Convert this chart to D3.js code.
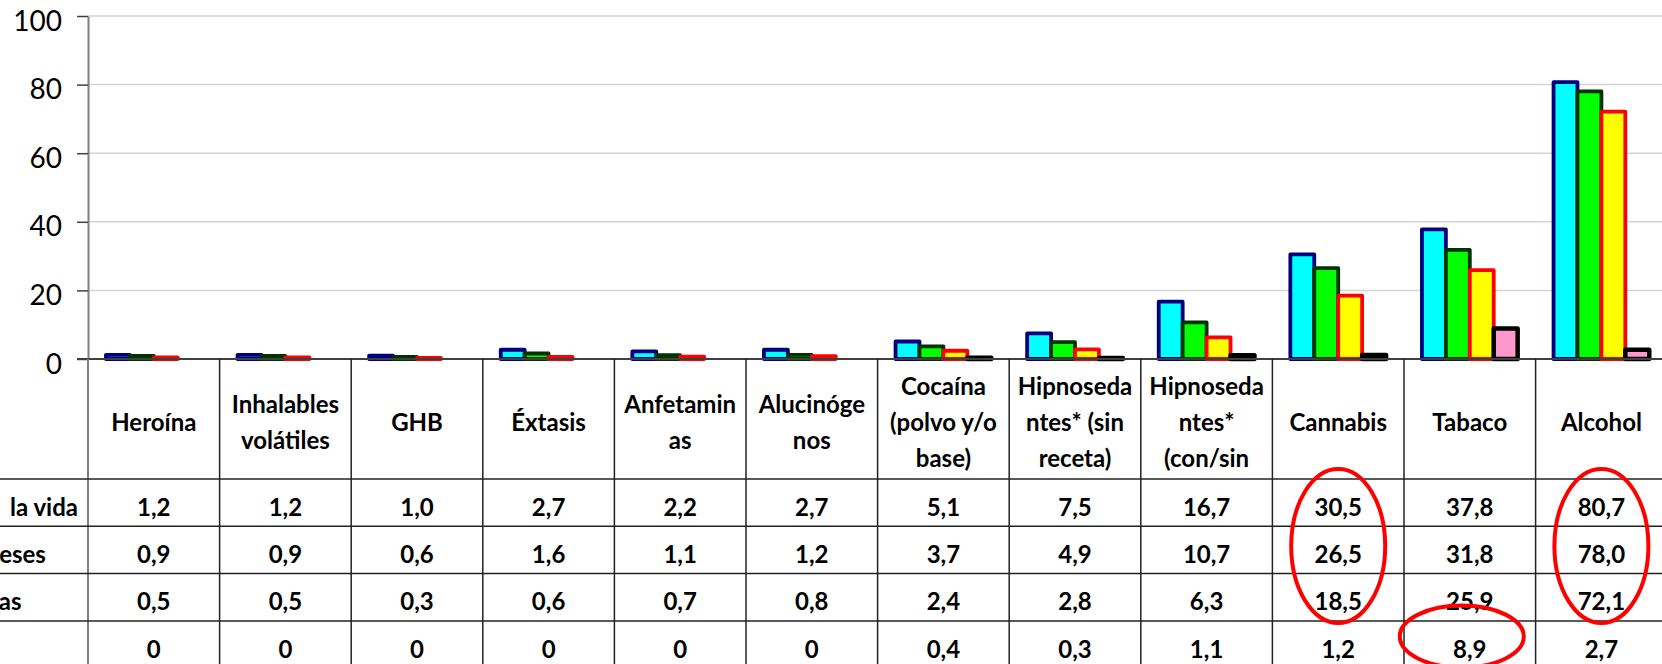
<!DOCTYPE html>
<html>
<head>
<meta charset="utf-8">
<script src="https://cdn.jsdelivr.net/npm/d3@7"></script>
<style>
  body { margin: 0; background: #fff; }
  svg { display: block; font-family: Lato, "Open Sans", sans-serif; }
</style>
</head>
<body>
<svg id="chart"></svg>
<script>
// data
const categories = ["Heroína", "Inhalables volátiles", "GHB", "Éxtasis", "Anfetaminas", "Alucinógenos",
  "Cocaína (polvo y/o base)", "Hipnosedantes* (sin receta)", "Hipnosedantes* (con/sin receta)",
  "Cannabis", "Tabaco", "Alcohol"];
// the header cells wrap the names like this; the last line of the 9th one is hidden
const headerLines = [["Heroína"], ["Inhalables", "volátiles"], ["GHB"], ["Éxtasis"], ["Anfetamin", "as"],
  ["Alucinóge", "nos"], ["Cocaína", "(polvo y/o", "base)"], ["Hipnoseda", "ntes* (sin", "receta)"],
  ["Hipnoseda", "ntes*", "(con/sin"], ["Cannabis"], ["Tabaco"], ["Alcohol"]];
const seriesNames = ["Alguna vez en la vida", "Últimos 12 meses", "Últimos 30 días", "Diariamente"];
const algunaVez = [1.2, 1.2, 1.0, 2.7, 2.2, 2.7, 5.1, 7.5, 16.7, 30.5, 37.8, 80.7];
const ultimos12 = [0.9, 0.9, 0.6, 1.6, 1.1, 1.2, 3.7, 4.9, 10.7, 26.5, 31.8, 78.0];
const ultimos30 = [0.5, 0.5, 0.3, 0.6, 0.7, 0.8, 2.4, 2.8, 6.3, 18.5, 25.9, 72.1];
const diario = [0, 0, 0, 0, 0, 0, 0.4, 0.3, 1.1, 1.2, 8.9, 2.7];
const yTicks = [0, 20, 40, 60, 80, 100];
const highlights = [
  { cat: "Cannabis", from: 0, to: 2 },
  { cat: "Tabaco", from: 3, to: 3 },
  { cat: "Alcohol", from: 0, to: 2 }
];

const seriesValues = [algunaVez, ultimos12, ultimos30, diario];
const fills = ["#00ffff", "#00ff00", "#ffff00", "#ff99cc"];
const strokes = ["#000080", "#003300", "#ff0000", "#000000"];

const width = 1662, height = 664;
const left = 88, colW = 131.6;
const plotTop = 16, plotBottom = 359;
const headerBottom = 479, rowH = 47.3;

const svg = d3.select("#chart").attr("width", width).attr("height", height);

const x = d3.scaleBand()
  .domain(categories)
  .range([left, left + categories.length * colW])
  .padding(0);

const xs = d3.scaleBand()
  .domain(d3.range(seriesNames.length))
  .range([0, x.bandwidth()])
  .paddingInner(0)
  .paddingOuter(0.75);

const y = d3.scaleLinear()
  .domain([0, 100])
  .range([plotBottom, plotTop]);

const rows = d3.scaleBand()
  .domain(d3.range(seriesNames.length))
  .range([headerBottom, headerBottom + seriesNames.length * rowH]);

// gridlines
svg.append("g")
  .selectAll("line")
  .data(yTicks.filter(d => d > 0))
  .join("line")
  .attr("x1", left)
  .attr("x2", width)
  .attr("y1", d => y(d))
  .attr("y2", d => y(d))
  .attr("stroke", "#d4d4d4")
  .attr("stroke-width", 1.5);

// bars
seriesValues.forEach((vals, s) => {
  svg.append("g")
    .selectAll("rect")
    .data(categories.map((c, i) => ({ c, v: vals[i] })).filter(d => d.v > 0))
    .join("rect")
    .attr("x", d => x(d.c) + xs(s))
    .attr("y", d => y(d.v))
    .attr("width", xs.bandwidth())
    .attr("height", d => y(0) - y(d.v))
    .attr("fill", fills[s])
    .attr("stroke", strokes[s])
    .attr("stroke-width", s === 3 ? 4.5 : 3.8)
    .attr("stroke-linejoin", "round");
});

// y axis
const yAxis = svg.append("g")
  .attr("transform", `translate(${left},0)`)
  .call(d3.axisLeft(y).tickValues(yTicks).tickSize(11).tickPadding(15).tickSizeOuter(0));
yAxis.select(".domain").attr("stroke", "#7f7f7f").attr("stroke-width", 2);
yAxis.selectAll(".tick line").attr("stroke", "#404040").attr("stroke-width", 1.5);
yAxis.selectAll(".tick text")
  .attr("font-family", "Lato, sans-serif")
  .attr("font-size", 28)
  .attr("fill", "#000")
  .attr("dy", "0.5em");

// x axis line
svg.append("line")
  .attr("x1", left - 11)
  .attr("x2", width)
  .attr("y1", y(0))
  .attr("y2", y(0))
  .attr("stroke", "#404040")
  .attr("stroke-width", 2);

// data table grid
const tableBottom = headerBottom + seriesNames.length * rowH;
svg.append("g")
  .selectAll("line")
  .data(d3.range(categories.length + 1))
  .join("line")
  .attr("x1", i => left + i * colW)
  .attr("x2", i => left + i * colW)
  .attr("y1", y(0))
  .attr("y2", tableBottom)
  .attr("stroke", i => i === 0 ? "#7f7f7f" : "#222")
  .attr("stroke-width", i => i === 0 ? 2 : 1.5);

svg.append("g")
  .selectAll("line")
  .data(d3.range(seriesNames.length + 1))
  .join("line")
  .attr("x1", 0)
  .attr("x2", width)
  .attr("y1", i => headerBottom + i * rowH)
  .attr("y2", i => headerBottom + i * rowH)
  .attr("stroke", "#222")
  .attr("stroke-width", 1.5);

// header labels
const headerMid = (plotBottom + headerBottom) / 2 + 3;
const lineH = 36;
const hdr = svg.append("g")
  .attr("font-size", 24)
  .attr("font-weight", "bold")
  .attr("text-anchor", "middle");

categories.forEach((c, i) => {
  const lines = headerLines[i];
  const n = lines.length;
  hdr.append("text")
    .attr("x", x(c) + x.bandwidth() / 2)
    .selectAll("tspan")
    .data(lines)
    .join("tspan")
    .attr("x", x(c) + x.bandwidth() / 2)
    .attr("y", (d, j) => headerMid + (j - (n - 1) / 2) * lineH + 8.5)
    .text(d => d);
});

// table values
const fmt = v => v === 0 ? "0" : v.toFixed(1).replace(".", ",");
seriesValues.forEach((vals, s) => {
  svg.append("g")
    .attr("font-size", 24)
    .attr("font-weight", "bold")
    .attr("text-anchor", "middle")
    .selectAll("text")
    .data(categories.map((c, i) => ({ c, v: vals[i] })))
    .join("text")
    .attr("x", d => x(d.c) + x.bandwidth() / 2)
    .attr("y", rows(s) + rowH / 2 + 13)
    .text(d => fmt(d.v));
});

// row labels, cut by the left edge of the picture
svg.append("clipPath").attr("id", "rowclip")
  .append("rect")
  .attr("x", 6).attr("y", headerBottom)
  .attr("width", left - 6).attr("height", rowH);

const rowLabels = svg.append("g")
  .attr("font-size", 24)
  .attr("font-weight", "bold")
  .selectAll("text")
  .data(seriesNames)
  .join("text")
  .attr("y", (d, i) => rows(i) + rowH / 2 + 13)
  .attr("clip-path", (d, i) => i === 0 ? "url(#rowclip)" : null)
  .text(d => d);
const firstW = rowLabels.node().getComputedTextLength();
rowLabels.attr("x", 78 - firstW);

// red ellipses
svg.append("g")
  .selectAll("ellipse")
  .data(highlights)
  .join("ellipse")
  .attr("cx", d => x(d.cat) + x.bandwidth() / 2 + (d.from === d.to ? -8 : 0))
  .attr("cy", d => (rows(d.from) + rows(d.to) + rowH) / 2 + (d.from === d.to ? -8 : -4))
  .attr("rx", d => d.from === d.to ? 62 : 47)
  .attr("ry", d => d.from === d.to ? 31 : (d.to - d.from + 1) * rowH / 2 + 6)
  .attr("fill", "none")
  .attr("stroke", "#ff0000")
  .attr("stroke-width", 4);
</script>
</body>
</html>
